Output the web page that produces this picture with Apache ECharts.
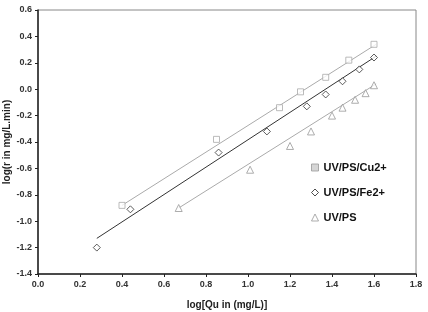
<!DOCTYPE html>
<html>
<head>
<meta charset="utf-8">
<script src="https://cdn.jsdelivr.net/npm/echarts@6/dist/echarts.min.js"></script>
<style>
  html, body { margin: 0; padding: 0; background: #fff; }
  #chart { width: 428px; height: 312px; }
</style>
</head>
<body>
<div id="chart"></div>
<script>
// measured points [log Qu, log r]
const cuPoints = [[0.40, -0.88], [0.85, -0.38], [1.15, -0.14], [1.25, -0.02], [1.37, 0.09], [1.48, 0.22], [1.60, 0.34]]
const fePoints = [[0.28, -1.20], [0.44, -0.91], [0.86, -0.48], [1.09, -0.32], [1.28, -0.13], [1.37, -0.04], [1.45, 0.06], [1.53, 0.15], [1.60, 0.24]]
const psPoints = [[0.67, -0.90], [1.01, -0.61], [1.20, -0.43], [1.30, -0.32], [1.40, -0.20], [1.45, -0.14], [1.51, -0.08], [1.56, -0.03], [1.60, 0.03]]

// fitted trend lines, end points
const cuFit = [[0.40, -0.88], [1.61, 0.34]]
const feFit = [[0.28, -1.13], [1.61, 0.25]]
const psFit = [[0.67, -0.90], [1.61, 0.04]]

const seriesNames = ['UV/PS/Cu2+', 'UV/PS/Fe2+', 'UV/PS']
const xTitle = 'log[Qu in (mg/L)]'
const yTitle = 'log(r in mg/L.min)'

const chart = echarts.init(document.getElementById('chart'))

const font = 'Liberation Sans, Arial, sans-serif'
const tickLabel = { fontFamily: font, fontWeight: 'bold', fontSize: 9, color: '#333', formatter: v => v.toFixed(1) }

const fitLine = (data, color, width) => ({
  type: 'line',
  data: data,
  symbol: 'none',
  silent: true,
  lineStyle: { color: color, width: width },
  z: 2
})

const option = {
  animation: false,
  grid: {
    left: 38, right: 12, top: 10, bottom: 38,
    outerBoundsMode: 'none', containLabel: false,
    show: true, borderColor: '#888', borderWidth: 1
  },
  legend: {
    orient: 'vertical',
    left: 306,
    top: 157,
    itemWidth: 7,
    itemHeight: 7,
    itemGap: 14,
    textStyle: { fontFamily: font, fontWeight: 'bold', fontSize: 11, color: '#111' },
    data: [
      { name: seriesNames[0], icon: 'rect', itemStyle: { color: '#ccc', borderColor: '#999', borderWidth: 1 } },
      { name: seriesNames[1], icon: 'diamond', itemStyle: { color: '#fff', borderColor: '#222', borderWidth: 1 } },
      { name: seriesNames[2], icon: 'triangle', itemStyle: { color: '#fff', borderColor: '#999', borderWidth: 1 } }
    ]
  },
  xAxis: {
    type: 'value',
    min: 0, max: 1.8, interval: 0.2,
    name: xTitle,
    nameLocation: 'middle',
    nameGap: 26,
    nameMoveOverlap: false,
    nameTextStyle: { fontFamily: font, fontWeight: 'bold', fontSize: 10, color: '#222' },
    axisLine: { onZero: false, lineStyle: { color: '#222', width: 1.5 } },
    axisTick: { inside: false, length: 3, lineStyle: { color: '#222' } },
    axisLabel: Object.assign({ margin: 6 }, tickLabel),
    splitLine: { show: false }
  },
  yAxis: {
    type: 'value',
    min: -1.4, max: 0.6, interval: 0.2,
    name: yTitle,
    nameLocation: 'middle',
    nameGap: 26,
    nameMoveOverlap: false,
    nameTextStyle: { fontFamily: font, fontWeight: 'bold', fontSize: 10, color: '#222' },
    axisLine: { show: true, onZero: false, lineStyle: { color: '#222', width: 1.5 } },
    axisTick: { show: true, length: 3, lineStyle: { color: '#222' } },
    axisLabel: Object.assign({ margin: 6 }, tickLabel),
    splitLine: { show: false }
  },
  series: [
    fitLine(cuFit, '#aaa', 1),
    fitLine(feFit, '#333', 1),
    fitLine(psFit, '#aaa', 1),
    {
      name: seriesNames[0], type: 'scatter', data: cuPoints,
      symbol: 'rect', symbolSize: 6,
      itemStyle: { color: '#fff', borderColor: '#aaa', borderWidth: 1 }, z: 3
    },
    {
      name: seriesNames[1], type: 'scatter', data: fePoints,
      symbol: 'diamond', symbolSize: 7,
      itemStyle: { color: '#fff', borderColor: '#333', borderWidth: 1 }, z: 3
    },
    {
      name: seriesNames[2], type: 'scatter', data: psPoints,
      symbol: 'triangle', symbolSize: 7,
      itemStyle: { color: '#fff', borderColor: '#999', borderWidth: 1 }, z: 3
    }
  ]
}

chart.setOption(option)
</script>
</body>
</html>
